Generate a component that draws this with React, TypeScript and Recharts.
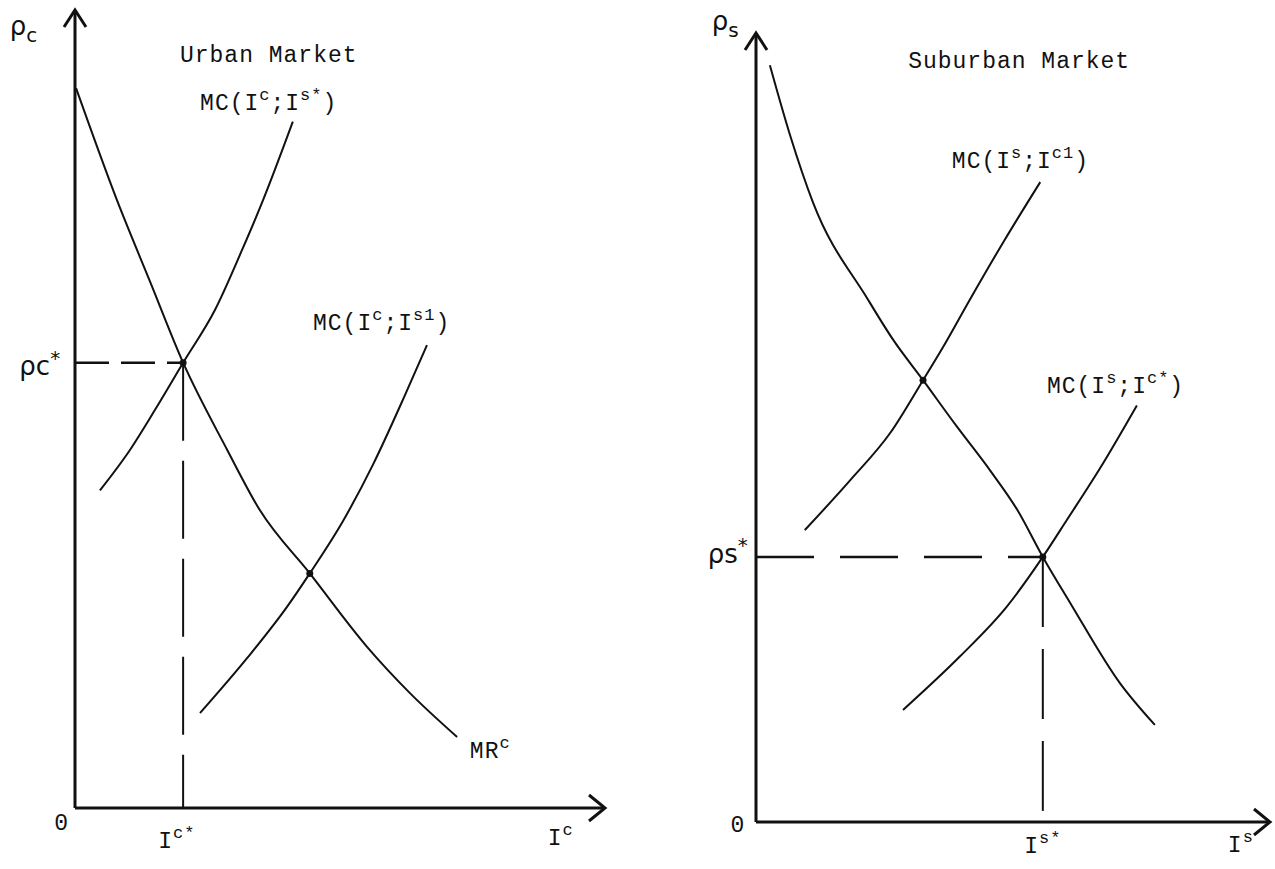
import React from "react";
import { LineChart, Line, XAxis, YAxis, ReferenceLine, ReferenceDot } from "recharts";

type Pt = { x: number; y: number };

// Urban market (left panel), x = I^c, y = rho_c, both on a 0..100 scale
const urbanMR: Pt[] = [
  { x: 0.2, y: 90.2 }, { x: 7.9, y: 76.2 }, { x: 14.2, y: 65.9 }, { x: 20.4, y: 55.8 },
  { x: 28.7, y: 44.9 }, { x: 34.9, y: 37.3 }, { x: 44.3, y: 29.4 }, { x: 55.1, y: 20.2 },
  { x: 63.2, y: 14.4 }, { x: 72.1, y: 8.9 },
];
const urbanMCStar: Pt[] = [
  { x: 4.7, y: 39.8 }, { x: 10.4, y: 44.9 }, { x: 15.1, y: 49.9 }, { x: 20.4, y: 55.8 },
  { x: 26.4, y: 62.4 }, { x: 31.5, y: 69.9 }, { x: 35.5, y: 76.2 }, { x: 41.1, y: 86.0 },
];
const urbanMC1: Pt[] = [
  { x: 23.6, y: 11.9 }, { x: 32.5, y: 18.8 }, { x: 40.0, y: 25.2 }, { x: 44.3, y: 29.4 },
  { x: 50.6, y: 36.0 }, { x: 56.2, y: 43.0 }, { x: 62.3, y: 51.8 }, { x: 66.4, y: 58.0 },
];
const urbanEq: Pt = { x: 20.4, y: 55.8 };
const urbanDots: Pt[] = [{ x: 20.4, y: 55.8 }, { x: 44.3, y: 29.4 }];

// Suburban market (right panel), x = I^s, y = rho_s
const suburbMR: Pt[] = [
  { x: 2.7, y: 95.9 }, { x: 6.6, y: 87.1 }, { x: 11.1, y: 78.5 }, { x: 21.8, y: 66.2 },
  { x: 26.7, y: 61.1 }, { x: 32.5, y: 56.0 }, { x: 39.1, y: 50.1 }, { x: 45.5, y: 44.6 },
  { x: 50.8, y: 39.6 }, { x: 55.8, y: 33.6 }, { x: 61.1, y: 27.8 }, { x: 70.8, y: 17.6 },
  { x: 77.6, y: 12.3 },
];
const suburbMC1: Pt[] = [
  { x: 9.5, y: 37.0 }, { x: 18.3, y: 43.3 }, { x: 26.1, y: 49.3 }, { x: 32.5, y: 56.0 },
  { x: 36.4, y: 60.2 }, { x: 41.6, y: 66.2 }, { x: 48.4, y: 73.8 }, { x: 55.3, y: 81.1 },
];
const suburbMCStar: Pt[] = [
  { x: 28.6, y: 14.2 }, { x: 39.7, y: 21.0 }, { x: 48.8, y: 27.3 }, { x: 55.8, y: 33.6 },
  { x: 60.5, y: 38.3 }, { x: 66.9, y: 44.8 }, { x: 74.1, y: 52.8 },
];
const suburbEq: Pt = { x: 55.8, y: 33.6 };
const suburbDots: Pt[] = [{ x: 32.5, y: 56.0 }, { x: 55.8, y: 33.6 }];

type Part = { t: string; pos?: "sup" | "sub" };
interface Note {
  x: number;
  y: number;
  anchor?: "start" | "middle" | "end";
  sans?: boolean;
  parts: Part[];
}

const urbanNotes: Note[] = [
  { x: -12.3, y: 96.9, sans: true, parts: [{ t: "ρ" }, { t: "c", pos: "sub" }] },
  { x: 19.8, y: 93.5, parts: [{ t: "Urban Market" }] },
  { x: 23.6, y: 87.5, parts: [{ t: "MC(I" }, { t: "c", pos: "sup" }, { t: ";I" }, { t: "s*", pos: "sup" }, { t: ")" }] },
  { x: 44.9, y: 59.9, parts: [{ t: "MC(I" }, { t: "c", pos: "sup" }, { t: ";I" }, { t: "s1", pos: "sup" }, { t: ")" }] },
  { x: 74.5, y: 6.3, parts: [{ t: "MR" }, { t: "c", pos: "sup" }] },
  { x: -2.8, y: 54.2, anchor: "end", sans: true, parts: [{ t: "ρc" }, { t: "*", pos: "sup" }] },
  { x: -2.5, y: -2.8, anchor: "middle", parts: [{ t: "0" }] },
  { x: 19.2, y: -5.0, anchor: "middle", parts: [{ t: "I" }, { t: "c*", pos: "sup" }] },
  { x: 89.2, y: -4.6, parts: [{ t: "I" }, { t: "c", pos: "sup" }] },
];

const suburbNotes: Note[] = [
  { x: -8.6, y: 100.4, sans: true, parts: [{ t: "ρ" }, { t: "s", pos: "sub" }] },
  { x: 29.6, y: 95.6, parts: [{ t: "Suburban Market" }] },
  { x: 38.1, y: 82.9, parts: [{ t: "MC(I" }, { t: "s", pos: "sup" }, { t: ";I" }, { t: "c1", pos: "sup" }, { t: ")" }] },
  { x: 56.6, y: 54.4, parts: [{ t: "MC(I" }, { t: "s", pos: "sup" }, { t: ";I" }, { t: "c*", pos: "sup" }, { t: ")" }] },
  { x: -1.6, y: 32.8, anchor: "end", sans: true, parts: [{ t: "ρs" }, { t: "*", pos: "sup" }] },
  { x: -3.5, y: -1.3, anchor: "middle", parts: [{ t: "0" }] },
  { x: 55.8, y: -3.9, anchor: "middle", parts: [{ t: "I" }, { t: "s*", pos: "sup" }] },
  { x: 91.8, y: -3.8, parts: [{ t: "I" }, { t: "s", pos: "sup" }] },
];

const MONO = "'Liberation Mono', 'DejaVu Sans Mono', monospace";
const SANS = "'DejaVu Sans', sans-serif";
const INK = "#111";

function NoteText({ cx, cy, note }: { cx: number; cy: number; note: Note }) {
  const size = note.sans ? 26 : 23;
  const small = Math.round(size * 0.75);
  let shift = 0;
  const spans = note.parts.map((p, i) => {
    const target = p.pos === "sup" ? -size * 0.42 : p.pos === "sub" ? size * 0.28 : 0;
    const dy = target - shift;
    shift = target;
    return (
      <tspan key={i} dy={dy} fontSize={p.pos ? small : size}>
        {p.t}
      </tspan>
    );
  });
  return (
    <text
      x={cx}
      y={cy}
      textAnchor={note.anchor ?? "start"}
      fontFamily={note.sans ? SANS : MONO}
      fill={INK}
      letterSpacing={note.sans ? 0 : 1}
    >
      {spans}
    </text>
  );
}

const arrowRight = (p: any) => (
  <path d={`M${p.cx - 16},${p.cy - 13} L${p.cx},${p.cy} L${p.cx - 16},${p.cy + 13}`} fill="none" stroke={INK} strokeWidth={3} />
);
const arrowUp = (p: any) => (
  <path d={`M${p.cx - 11},${p.cy + 17} L${p.cx},${p.cy} L${p.cx + 11},${p.cy + 17}`} fill="none" stroke={INK} strokeWidth={3} />
);

interface PanelProps {
  left: number;
  width: number;
  margin: { top: number; right: number; bottom: number; left: number };
  curves: Pt[][];
  eq: Pt;
  dots: Pt[];
  notes: Note[];
  hDash: string;
  vDash: string;
}

function Panel({ left, width, margin, curves, eq, dots, notes, hDash, vDash }: PanelProps) {
  return (
    <div style={{ position: "absolute", left, top: 0 }}>
      <LineChart width={width} height={869} margin={margin}>
        <XAxis type="number" dataKey="x" domain={[0, 100]} allowDataOverflow hide />
        <YAxis type="number" dataKey="y" domain={[0, 100]} allowDataOverflow hide />
        {/* axes as plain segments so they end at the arrow tips */}
        <ReferenceLine segment={[{ x: 0, y: 0 }, { x: 100, y: 0 }]} stroke={INK} strokeWidth={3} ifOverflow="visible" />
        <ReferenceLine segment={[{ x: 0, y: 0 }, { x: 0, y: 100 }]} stroke={INK} strokeWidth={3} ifOverflow="visible" />
        <ReferenceLine segment={[{ x: 0, y: eq.y }, { x: eq.x, y: eq.y }]} stroke={INK}
          strokeWidth={2.5} strokeDasharray={hDash} ifOverflow="visible" />
        <ReferenceLine segment={[{ x: eq.x, y: eq.y }, { x: eq.x, y: 0 }]} stroke={INK}
          strokeWidth={2} strokeDasharray={vDash} ifOverflow="visible" />
        {curves.map((c, i) => (
          <Line key={i} data={c} dataKey="y" type="monotone" stroke={INK} strokeWidth={2}
            dot={false} activeDot={false} isAnimationActive={false} />
        ))}
        {dots.map((d, i) => (
          <ReferenceDot key={"d" + i} x={d.x} y={d.y} r={3.5} fill={INK} stroke="none" ifOverflow="visible" />
        ))}
        <ReferenceDot x={100} y={0} ifOverflow="visible" shape={arrowRight} />
        <ReferenceDot x={0} y={100} ifOverflow="visible" shape={arrowUp} />
        {notes.map((n, i) => (
          <ReferenceDot key={"n" + i} x={n.x} y={n.y} ifOverflow="visible"
            shape={(p: any) => <NoteText cx={p.cx} cy={p.cy} note={n} />} />
        ))}
      </LineChart>
    </div>
  );
}

export default function App() {
  return (
    <div style={{ position: "absolute", left: 0, top: 0, width: 1275, height: 869, background: "#fff" }}>
      <Panel
        left={0}
        width={640}
        margin={{ top: 10, right: 35, bottom: 61, left: 75 }}
        curves={[urbanMR, urbanMCStar, urbanMC1]}
        eq={urbanEq}
        dots={urbanDots}
        notes={urbanNotes}
        hDash="34 12"
        vDash="78 20"
      />
      <Panel
        left={640}
        width={635}
        margin={{ top: 33, right: 5, bottom: 47, left: 116 }}
        curves={[suburbMR, suburbMC1, suburbMCStar]}
        eq={suburbEq}
        dots={suburbDots}
        notes={suburbNotes}
        hDash="58 26"
        vDash="70 22"
      />
    </div>
  );
}
